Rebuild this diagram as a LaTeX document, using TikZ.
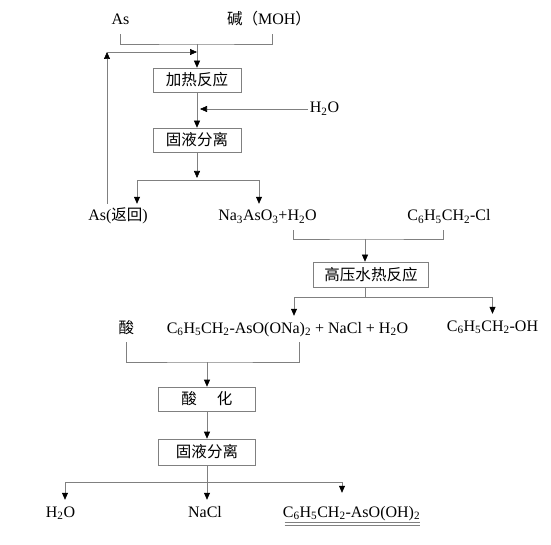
\documentclass[tikz,border=0pt]{standalone}
\usepackage{fontspec}
\setmainfont{Liberation Serif}
\newfontfamily\cjk[Scale=0.97]{Noto Sans CJK SC}
\usetikzlibrary{arrows.meta,positioning,calc}
\newcommand\zh[1]{{\cjk #1}}
\newcommand\sub[1]{\textsubscript{#1}}

\begin{document}
\begin{tikzpicture}[x=1pt,y=-1pt,
  font=\fontsize{16}{19}\selectfont,
  box/.style={draw=black!50, line width=0.65pt, minimum width=88pt, minimum height=24pt, inner sep=0pt},
  lab/.style={inner xsep=0pt, inner ysep=6pt, text height=11pt, text depth=3pt},
  ln/.style={draw=black!50, line width=0.65pt},
  arr/.style={ln, -{Triangle[length=7pt,width=6pt,color=black]}}]
\useasboundingbox (0,0) rectangle (551,545);
\node[lab] (as) at (120.5,21) {As};
\node[lab] (moh) at (269,21) {\zh{碱（}MOH\zh{）}};
\node[box] (heat) at (197,80) {\zh{加热反应}};
\node[lab] (h2oA) at (324.5,109) {H\sub{2}O};
\node[box] (sep1) at (197,140) {\zh{固液分离}};
\node[lab] (asret) at (118,217) {As(\zh{返回})};
\node[lab] (na3) at (267.5,217) {Na\sub{3}AsO\sub{3}+H\sub{2}O};
\node[lab] (bzcl) at (449,217) {C\sub{6}H\sub{5}CH\sub{2}-Cl};
\node[box, minimum width=115pt, minimum height=25pt] (hp) at (371,274.5) {\zh{高压水热反应}};
\node[lab] (acid) at (126.5,329) {\zh{酸}};
\node[lab] (mix) at (287.5,329) {C\sub{6}H\sub{5}CH\sub{2}-AsO(ONa)\sub{2} + NaCl + H\sub{2}O};
\node[lab] (bzoh) at (492.5,327) {C\sub{6}H\sub{5}CH\sub{2}-OH};
\node[box, minimum width=97pt] (acidbox) at (207,399) {\zh{酸\hspace{20pt}化}};
\node[box, minimum width=97pt, minimum height=26pt] (sep2) at (207,452) {\zh{固液分离}};
\node[lab] (h2oB) at (60.5,513) {H\sub{2}O};
\node[lab] (nacl) at (205,513) {NaCl};
\node[lab] (prod) at (351.5,513) {C\sub{6}H\sub{5}CH\sub{2}-AsO(OH)\sub{2}};
\coordinate (top) at (197,44);
\coordinate (ret) at (107,52);
\coordinate (s1) at (197,180);
\coordinate (j3) at (365,239);
\coordinate (j4) at (365,297);
\coordinate (j5) at (207,362);
\coordinate (j6) at (207,482);
\draw[ln] (as.south) |- (top) -| ([xshift=3pt]moh.south);
\draw[arr] (top) -- (heat.north);
\draw[arr] ([xshift=-11pt]asret.north) -- (ret);
\draw[arr] (ret) -- (ret -| top);
\draw[arr] ([xshift=-2pt]h2oA.west) -- ([xshift=3pt]h2oA.west -| heat.south);
\draw[arr] (heat) -- (sep1);
\draw[arr] (sep1.south) -- ([yshift=2pt]s1);
\draw[arr] (s1) -| ([xshift=19pt]asret.north);
\draw[arr] (s1) -| ([xshift=-8.5pt]na3.north);
\draw[ln] ([xshift=25.5pt]na3.south) |- (j3) -| ([xshift=-6pt]bzcl.south);
\draw[arr] (j3) -- (j3 |- hp.north);
\draw[ln] (j3 |- hp.south) -- (j4);
\draw[arr] (j4) -| ([xshift=6.5pt]mix.north);
\draw[arr] (j4) -| (bzoh.north);
\draw[ln] (acid.south) |- (j5) -| ([xshift=11.5pt]mix.south);
\draw[arr] (j5) -- (j5 |- acidbox.north);
\draw[arr] (acidbox) -- (sep2);
\draw[arr] (sep2.south) -- (sep2.south |- nacl.north);
\draw[arr] (j6) -| ([xshift=4.5pt]h2oB.north);
\draw[arr] (j6) -| ([xshift=-9.5pt,yshift=7pt]prod.north);
\draw[ln] ([xshift=2pt,yshift=4pt]prod.south west) -- ([yshift=4pt]prod.south east);
\draw[ln] ([xshift=2pt,yshift=1pt]prod.south west) -- ([yshift=1pt]prod.south east);
\end{tikzpicture}
\end{document}
